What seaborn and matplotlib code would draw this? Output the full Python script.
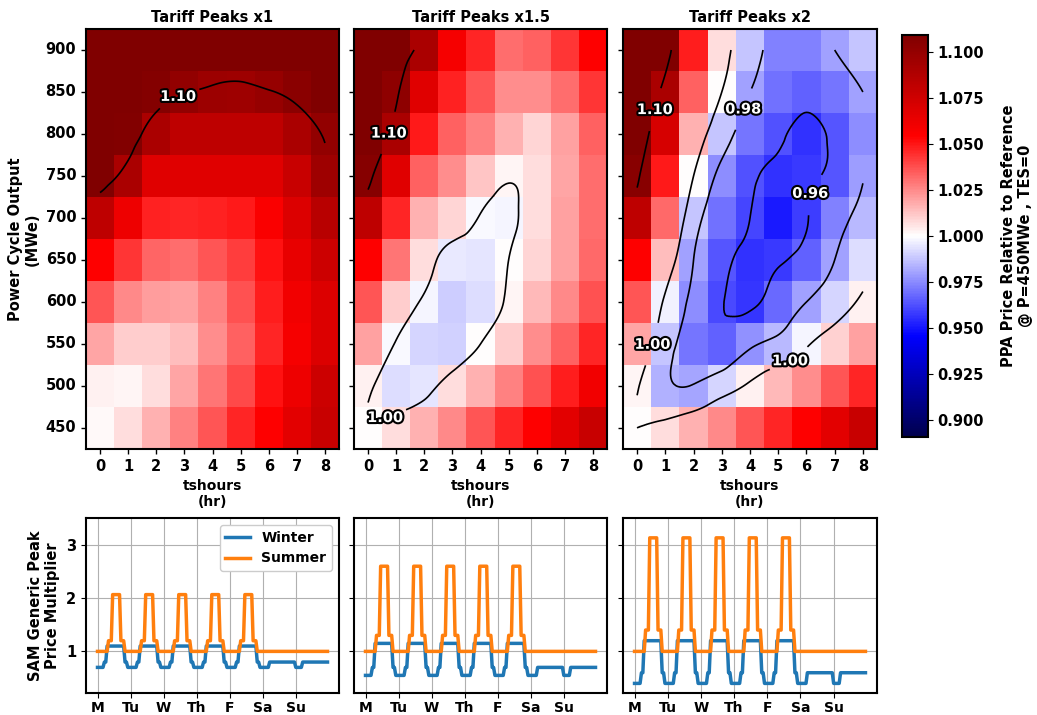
import matplotlib

matplotlib.use("Agg")
import matplotlib.pyplot as plt
import matplotlib.tri as mtri
import matplotlib.patheffects as pe
import numpy as np
import pandas as pd
import seaborn as sns

# ---- heatmap data (rows: power cycle output, top to bottom) ----
tshours = [0, 1, 2, 3, 4, 5, 6, 7, 8]
power_mwe = [900, 850, 800, 750, 700, 650, 600, 550, 500, 450]

ppa_x1 = [
    [1.120, 1.120, 1.119, 1.117, 1.116, 1.112, 1.117, 1.118, 1.120],
    [1.115, 1.113, 1.107, 1.101, 1.097, 1.096, 1.099, 1.104, 1.110],
    [1.115, 1.108, 1.091, 1.082, 1.082, 1.082, 1.082, 1.091, 1.101],
    [1.109, 1.091, 1.068, 1.068, 1.068, 1.068, 1.068, 1.078, 1.096],
    [1.082, 1.062, 1.047, 1.046, 1.047, 1.049, 1.057, 1.069, 1.085],
    [1.055, 1.043, 1.033, 1.031, 1.036, 1.041, 1.051, 1.064, 1.076],
    [1.036, 1.025, 1.021, 1.020, 1.027, 1.037, 1.048, 1.060, 1.069],
    [1.019, 1.011, 1.011, 1.014, 1.024, 1.034, 1.046, 1.058, 1.069],
    [1.003, 1.002, 1.007, 1.019, 1.029, 1.039, 1.051, 1.062, 1.076],
    [1.001, 1.007, 1.017, 1.027, 1.036, 1.046, 1.055, 1.066, 1.078],
]

ppa_x15 = [
    [1.118, 1.109, 1.091, 1.058, 1.046, 1.031, 1.034, 1.043, 1.055],
    [1.116, 1.103, 1.068, 1.047, 1.036, 1.024, 1.024, 1.031, 1.043],
    [1.112, 1.091, 1.049, 1.034, 1.027, 1.017, 1.009, 1.020, 1.034],
    [1.106, 1.068, 1.034, 1.024, 1.012, 1.002, 1.007, 1.019, 1.031],
    [1.082, 1.046, 1.017, 1.009, 0.999, 0.9975, 1.007, 1.020, 1.031],
    [1.055, 1.029, 1.007, 0.995, 0.9945, 1.000, 1.009, 1.020, 1.032],
    [1.036, 1.011, 0.998, 0.989, 0.993, 1.002, 1.015, 1.025, 1.037],
    [1.020, 0.999, 0.991, 0.990, 1.000, 1.011, 1.024, 1.034, 1.046],
    [1.003, 0.993, 0.9945, 1.007, 1.017, 1.027, 1.037, 1.048, 1.060],
    [1.000, 1.007, 1.017, 1.025, 1.036, 1.046, 1.055, 1.066, 1.078],
]

ppa_x2 = [
    [1.125, 1.111, 1.048, 1.007, 0.988, 0.973, 0.973, 0.980, 0.988],
    [1.120, 1.091, 1.034, 1.000, 0.980, 0.970, 0.966, 0.971, 0.980],
    [1.115, 1.072, 1.017, 0.988, 0.971, 0.963, 0.956, 0.964, 0.976],
    [1.105, 1.049, 1.000, 0.976, 0.963, 0.956, 0.958, 0.964, 0.979],
    [1.082, 1.032, 0.988, 0.970, 0.960, 0.951, 0.959, 0.973, 0.985],
    [1.055, 1.014, 0.980, 0.964, 0.956, 0.958, 0.966, 0.980, 0.993],
    [1.036, 0.997, 0.976, 0.961, 0.957, 0.968, 0.980, 0.991, 1.003],
    [1.019, 0.988, 0.971, 0.966, 0.977, 0.985, 0.998, 1.010, 1.020],
    [1.002, 0.983, 0.981, 0.991, 1.003, 1.015, 1.024, 1.036, 1.046],
    [1.000, 1.007, 1.017, 1.025, 1.036, 1.046, 1.055, 1.066, 1.078],
]

panel_titles = ["Tariff Peaks x1", "Tariff Peaks x1.5", "Tariff Peaks x2"]
contour_levels = [0.96, 0.98, 1.00, 1.10]

# where the contour labels sit (heatmap cell coordinates)
label_spots = [
    [(3.35, 1.7)],
    [(1.34, 2.5), (1.17, 9.35)],
    [(1.26, 1.94), (4.41, 1.94), (6.9, 3.94), (1.02, 7.5), (5.89, 7.86)],
]

# ---- tariff schedule data ----
# multipliers for periods 1..6
mult_x1 = [2.064, 1.2, 1.0, 1.1, 0.8, 0.7]
mult_x15 = [2.596, 1.3, 1.0, 1.15, 0.7, 0.55]
mult_x2 = [3.128, 1.4, 1.0, 1.2, 0.6, 0.4]

winter_weekday = [6, 6, 6, 6, 6, 5, 5, 4, 4, 4, 4, 4, 4, 4, 4, 4, 4, 4, 4, 4, 5, 5, 6, 6]
summer_weekday = [3, 3, 3, 3, 3, 3, 3, 3, 2, 2, 2, 1, 1, 1, 1, 1, 1, 2, 2, 2, 3, 3, 3, 3]
winter_weekend = [6, 6, 6, 6, 6, 5, 5, 5, 5, 5, 5, 5, 5, 5, 5, 5, 5, 5, 5, 5, 5, 5, 5, 5]
summer_weekend = [3] * 24

day_labels = ["M", "Tu", "W", "Th", "F", "Sa", "Su"]

VMIN, VMAX = 0.891, 1.109

plt.rcParams["font.family"] = ["DejaVu Sans"]
plt.rcParams["font.weight"] = "bold"
plt.rcParams["axes.labelweight"] = "bold"
plt.rcParams["axes.titleweight"] = "bold"
plt.rcParams["font.size"] = 10

W, H = 1037, 715
fig = plt.figure(figsize=(W / 100, H / 100), dpi=100)


def px_axes(left, top, right, bottom):
    return fig.add_axes([left / W, 1 - bottom / H, (right - left) / W, (bottom - top) / H])


heat_axes = [px_axes(86, 29, 339, 449), px_axes(354, 29, 607, 449), px_axes(623, 29, 877, 449)]
cbar_ax = px_axes(902, 35, 928, 437)
line_axes = [px_axes(86, 518, 339, 693), px_axes(354, 518, 607, 693), px_axes(623, 518, 877, 693)]


def draw_heat(ax, values, spots, with_cbar):
    df = pd.DataFrame(values, index=power_mwe, columns=tshours)
    sns.heatmap(
        df,
        ax=ax,
        cmap="seismic",
        vmin=VMIN,
        vmax=VMAX,
        cbar=with_cbar,
        cbar_ax=cbar_ax if with_cbar else None,
    )
    # smooth contours on the cell-centre grid
    z = df.to_numpy()
    xx, yy = np.meshgrid(np.arange(z.shape[1]) + 0.5, np.arange(z.shape[0]) + 0.5)
    tri = mtri.Triangulation(xx.ravel(), yy.ravel())
    tri_f, z_f = mtri.UniformTriRefiner(tri).refine_field(z.ravel(), subdiv=4)
    cs = ax.tricontour(tri_f, z_f, levels=contour_levels, colors="k", linewidths=1.2)
    for t in ax.clabel(cs, fmt="%.2f", fontsize=10.5, manual=spots, inline_spacing=4):
        t.set_rotation(0)
        t.set_color("white")
        t.set_fontweight("bold")
        t.set_path_effects([pe.withStroke(linewidth=3, foreground="k")])

    for sp in ax.spines.values():
        sp.set_visible(True)
        sp.set_linewidth(1.5)
    ax.tick_params(axis="both", length=3.5, width=1, labelsize=10.5)
    plt.setp(ax.get_xticklabels(), rotation=0)
    plt.setp(ax.get_yticklabels(), rotation=0)
    ax.set_xlabel("tshours\n(hr)")


for i, (ax, vals, title) in enumerate(zip(heat_axes, [ppa_x1, ppa_x15, ppa_x2], panel_titles)):
    draw_heat(ax, vals, label_spots[i], with_cbar=(i == 2))
    ax.set_title(title, fontsize=10.5, pad=5)
    if i == 0:
        ax.set_ylabel("Power Cycle Output\n(MWe)", fontsize=10.5)
    else:
        ax.tick_params(labelleft=False)

cb = heat_axes[2].collections[0].colorbar
cb.set_ticks(np.arange(0.9, 1.1001, 0.025))
cb.ax.yaxis.set_major_formatter("{x:.3f}")
cb.ax.tick_params(labelsize=10.5)
cb.outline.set_linewidth(1.5)
cb.set_label("PPA Price Relative to Reference\n@ P=450MWe , TES=0", labelpad=12, fontsize=10.5)

# ---- weekly tariff profiles ----
week_winter = winter_weekday * 5 + winter_weekend * 2
week_summer = summer_weekday * 5 + summer_weekend * 2
hours = np.arange(len(week_winter))

for i, (ax, mult) in enumerate(zip(line_axes, [mult_x1, mult_x15, mult_x2])):
    df = pd.DataFrame(
        {
            "hour": hours,
            "Winter": [mult[p - 1] for p in week_winter],
            "Summer": [mult[p - 1] for p in week_summer],
        }
    ).melt("hour", var_name="season", value_name="mult")
    sns.lineplot(
        data=df, x="hour", y="mult", hue="season",
        palette=["#1f77b4", "#ff7f0e"], linewidth=2.5, ax=ax, legend=(i == 0),
    )
    ax.set_ylim(0.22, 3.5)
    ax.set_yticks([1, 2, 3])
    ax.set_xticks(np.arange(0, 168, 24))
    ax.set_xticklabels(day_labels)
    ax.grid(True, color="#b0b0b0", linewidth=0.8)
    ax.set_axisbelow(True)
    ax.set_xlabel("")
    for sp in ax.spines.values():
        sp.set_linewidth(1.5)
    ax.tick_params(axis="y", length=3.5, labelsize=10.5)
    ax.tick_params(axis="x", length=3.5, labelsize=10, pad=2)
    if i == 0:
        ax.set_ylabel("SAM Generic Peak\nPrice Multiplier", fontsize=10.5)
        handles, labels = ax.get_legend_handles_labels()
        ax.legend(handles, labels, loc="upper right", fontsize=10, framealpha=1,
                  handlelength=1.8)
    else:
        ax.set_ylabel("")
        ax.tick_params(labelleft=False)

fig.savefig("out.png", dpi=100)
